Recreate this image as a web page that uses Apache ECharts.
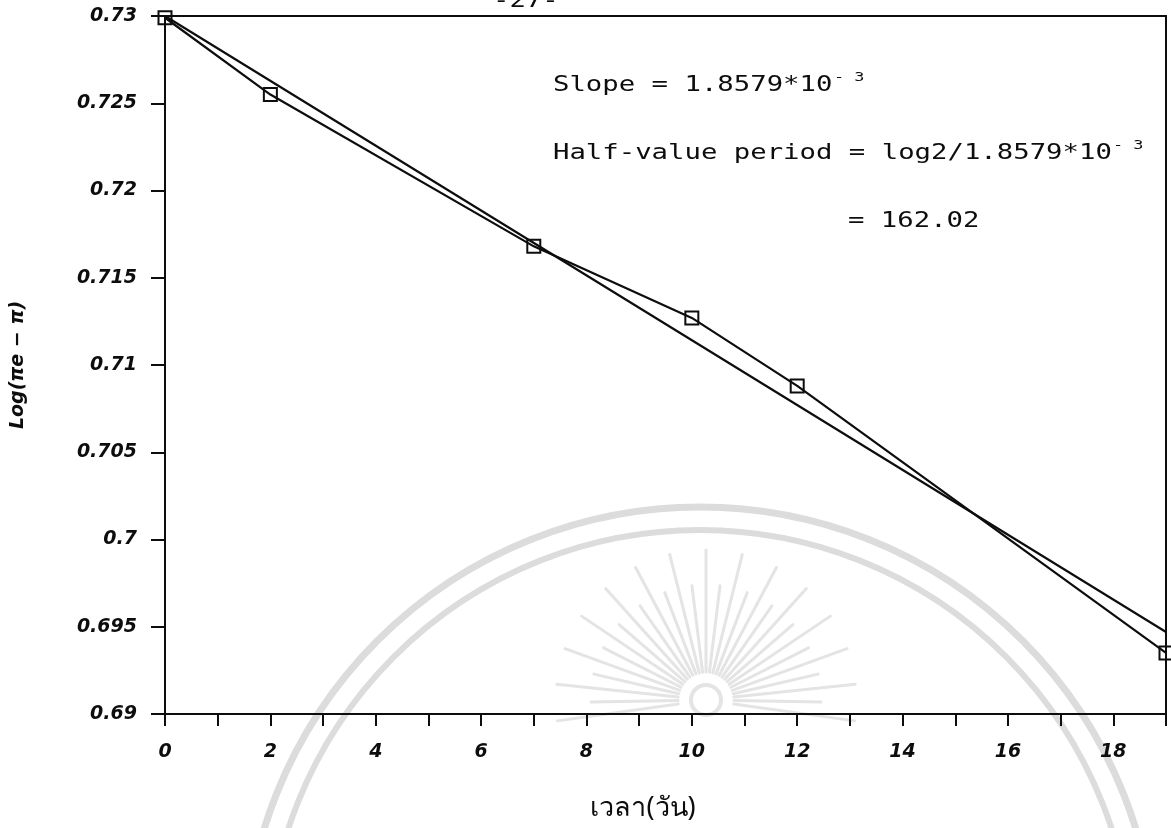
<!DOCTYPE html>
<html>
<head>
<meta charset="utf-8">
<script src="https://cdn.jsdelivr.net/npm/echarts@6/dist/echarts.min.js"></script>
<style>
  html, body { margin: 0; padding: 0; background: #ffffff; }
  #chart { width: 1171px; height: 828px; }
</style>
</head>
<body>
<div id="chart"></div>
<script>
// Measured log(πe − π) against time in days
const days = [0, 2, 7, 10, 12, 19];
const logValues = [0.7299, 0.7255, 0.7168, 0.7127, 0.7088, 0.6935];

// Least-squares line (slope 1.8579e-3 per day)
const fitDays = [0, 19];
const fitValues = [0.7300, 0.6947];

// Axis ranges and labels
const xMin = 0, xMax = 19, xStep = 1;
const yMin = 0.69, yMax = 0.73, yStep = 0.005;
const xTitle = 'เวลา(วัน)';
const yTitle = 'Log(πe − π)';
const pageNumber = '-27-';

// Annotation lines
const slopeText = 'Slope = 1.8579*10';
const halfText = 'Half-value period = log2/1.8579*10';
const resultText = '= 162.02';
const expText = '- 3';

const ink = '#0d0d0d';
const sealGrey = '#dcdcdc';
const rayGrey = '#e4e4e4';
const labelFont = { fontFamily: 'DejaVu Sans', fontWeight: 'bold', fontStyle: 'italic', fontSize: 19, color: ink };
const monoFont = '21px "DejaVu Sans Mono", "Liberation Mono", monospace';
const supFont = '13px "DejaVu Sans Mono", "Liberation Mono", monospace';

// Background seal: two rings and a sunburst
const sealCx = 700, sealCy = 963;
const sunCx = 706, sunCy = 700;
const rayAngles = [];
for (let a = 172; a <= 368; a += 7) rayAngles.push(a);
const sealGraphics = [
  { type: 'circle', z: -10, silent: true, shape: { cx: sealCx, cy: sealCy, r: 456 },
    style: { fill: 'none', stroke: sealGrey, lineWidth: 7 } },
  { type: 'circle', z: -10, silent: true, shape: { cx: sealCx, cy: sealCy, r: 433 },
    style: { fill: 'none', stroke: sealGrey, lineWidth: 6 } },
  { type: 'circle', z: -10, silent: true, shape: { cx: sunCx, cy: sunCy, r: 15 },
    style: { fill: 'none', stroke: rayGrey, lineWidth: 4 } }
].concat(rayAngles.map((deg, i) => {
  const t = deg * Math.PI / 180;
  const r0 = 28, r1 = (i % 2 === 0) ? 150 : 115;
  return {
    type: 'line', z: -10, silent: true,
    shape: { x1: sunCx + r0 * Math.cos(t), y1: sunCy + r0 * Math.sin(t),
             x2: sunCx + r1 * Math.cos(t), y2: sunCy + r1 * Math.sin(t) },
    style: { stroke: rayGrey, lineWidth: 3, lineCap: 'round' }
  };
}));

const chart = echarts.init(document.getElementById('chart'), null, { renderer: 'canvas' });

chart.setOption({
  animation: false,
  backgroundColor: '#ffffff',
  grid: {
    left: 165, right: 5, top: 16, bottom: 114,
    containLabel: false, outerBoundsMode: 'none',
    show: true, borderColor: ink, borderWidth: 2, backgroundColor: 'transparent'
  },
  xAxis: {
    type: 'value', min: xMin, max: xMax, interval: xStep,
    axisLine: { show: true, onZero: false, lineStyle: { color: ink, width: 2 } },
    axisTick: { show: true, inside: false, length: 12, lineStyle: { color: ink, width: 2 } },
    axisLabel: {
      ...labelFont, margin: 29,
      formatter: v => (Math.round(v) % 2 === 0 ? String(Math.round(v)) : '')
    },
    splitLine: { show: false }
  },
  yAxis: {
    type: 'value', min: yMin, max: yMax, interval: yStep,
    name: yTitle, nameLocation: 'middle', nameRotate: 90, nameGap: 137,
    nameTextStyle: { fontFamily: 'DejaVu Sans', fontWeight: 'bold', fontStyle: 'italic', fontSize: 19, color: ink },
    axisLine: { show: true, onZero: false, lineStyle: { color: ink, width: 2 } },
    axisTick: { show: true, inside: false, length: 14, lineStyle: { color: ink, width: 2 } },
    axisLabel: {
      ...labelFont, margin: 28,
      formatter: v => String(+v.toFixed(3))
    },
    splitLine: { show: false }
  },
  graphic: sealGraphics.concat([
    // page number, cut by the top edge
    { type: 'text', x: 493, y: 2, scaleX: 1.3,
      style: { text: pageNumber, font: monoFont, fill: ink, verticalAlign: 'middle' } },
    // annotations
    { type: 'text', x: 553, y: 86, scaleX: 1.3,
      style: { text: slopeText, font: monoFont, fill: ink, verticalAlign: 'middle' } },
    { type: 'text', x: 834, y: 78, scaleX: 1.3,
      style: { text: expText, font: supFont, fill: ink, verticalAlign: 'middle' } },
    { type: 'text', x: 553, y: 154, scaleX: 1.3,
      style: { text: halfText, font: monoFont, fill: ink, verticalAlign: 'middle' } },
    { type: 'text', x: 1113, y: 146, scaleX: 1.3,
      style: { text: expText, font: supFont, fill: ink, verticalAlign: 'middle' } },
    { type: 'text', x: 848, y: 222, scaleX: 1.3,
      style: { text: resultText, font: monoFont, fill: ink, verticalAlign: 'middle' } },
    // x axis title
    { type: 'text', x: 643, y: 808,
      style: { text: xTitle, font: '27px "Noto Sans", "DejaVu Sans", sans-serif', fill: ink, align: 'center', verticalAlign: 'middle' } }
  ]),
  series: [
    {
      name: 'fit', type: 'line',
      data: fitDays.map((d, i) => [d, fitValues[i]]),
      showSymbol: false, symbol: 'none',
      lineStyle: { color: ink, width: 2.2 },
      z: 2
    },
    {
      name: 'measured', type: 'line',
      data: days.map((d, i) => [d, logValues[i]]),
      symbol: 'rect', symbolSize: 13,
      itemStyle: { color: 'rgba(255,255,255,0)', borderColor: ink, borderWidth: 2 },
      lineStyle: { color: ink, width: 2.2 },
      clip: false,
      z: 3
    }
  ]
});
</script>
</body>
</html>
